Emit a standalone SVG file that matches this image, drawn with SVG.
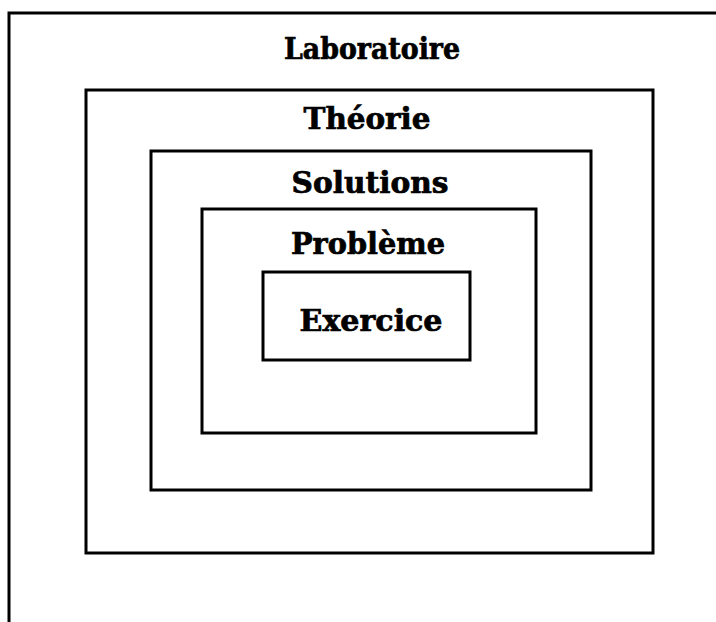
<svg xmlns="http://www.w3.org/2000/svg" width="716" height="622" viewBox="0 0 716 622">
<style>
.box{fill:none;stroke:#000;stroke-width:3}
.lbl{font-family:"DejaVu Serif","Liberation Serif",serif;font-weight:bold;font-size:29px;fill:#000;stroke:#000;stroke-width:0.7;text-anchor:middle}
</style>
<rect x="0" y="0" width="716" height="622" fill="#fff"/>
<g id="laboratoire">
<path class="box" d="M9 622 V13 H716"/>
<text class="lbl" x="372" y="59" textLength="176" lengthAdjust="spacingAndGlyphs">Laboratoire</text>
</g>
<g id="theorie">
<rect class="box" x="86" y="90" width="567" height="463"/>
<text class="lbl" x="367" y="129" textLength="127" lengthAdjust="spacingAndGlyphs">Théorie</text>
</g>
<g id="solutions">
<rect class="box" x="151" y="151" width="440" height="339"/>
<text class="lbl" x="370" y="193" textLength="157" lengthAdjust="spacingAndGlyphs">Solutions</text>
</g>
<g id="probleme">
<rect class="box" x="202" y="209" width="334" height="224"/>
<text class="lbl" x="368" y="254" textLength="154" lengthAdjust="spacingAndGlyphs">Problème</text>
</g>
<g id="exercice">
<rect class="box" x="263" y="272" width="207" height="88"/>
<text class="lbl" x="371" y="331" textLength="143" lengthAdjust="spacingAndGlyphs">Exercice</text>
</g>
<g id="connectors"></g>
</svg>
